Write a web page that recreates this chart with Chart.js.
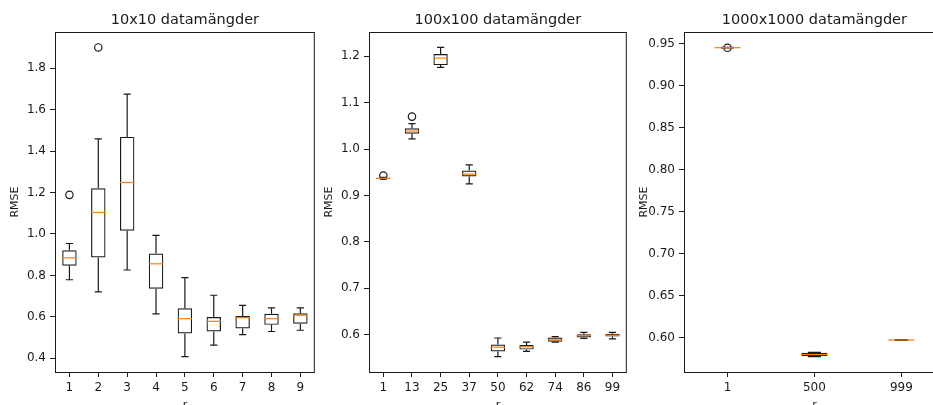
<!DOCTYPE html>
<html>
<head>
<meta charset="utf-8">
<script src="https://cdn.jsdelivr.net/npm/chart.js@4.4.0/dist/chart.umd.min.js"></script>
<style>
  html, body { margin: 0; padding: 0; background: #fff; overflow: hidden; width: 933px; height: 405px; }
  canvas { position: absolute; top: 0; }
</style>
</head>
<body>
<canvas id="c10" width="320" height="420" style="left:0px"></canvas>
<canvas id="c100" width="318" height="420" style="left:314px"></canvas>
<canvas id="c1000" width="321" height="420" style="left:629px"></canvas>
<script>
// 10x10
var labels10 = ['1', '2', '3', '4', '5', '6', '7', '8', '9'];
var low10  = [0.779, 0.720, 0.826, 0.614, 0.408, 0.463, 0.514, 0.529, 0.535];
var q1_10  = [0.847, 0.887, 1.016, 0.736, 0.519, 0.529, 0.544, 0.561, 0.567];
var med10  = [0.885, 1.104, 1.249, 0.856, 0.591, 0.578, 0.596, 0.591, 0.607];
var q3_10  = [0.921, 1.221, 1.469, 0.906, 0.641, 0.599, 0.604, 0.615, 0.617];
var high10 = [0.954, 1.459, 1.676, 0.993, 0.789, 0.704, 0.655, 0.643, 0.643];
var fliers10 = [1.189, 1.901, null, null, null, null, null, null, null];
var ticks10 = [0.4, 0.6, 0.8, 1.0, 1.2, 1.4, 1.6, 1.8];

// 100x100
var labels100 = ['1', '13', '25', '37', '50', '62', '74', '86', '99'];
var low100  = [0.935, 1.022, 1.176, 0.925, 0.553, 0.564, 0.584, 0.592, 0.591];
var q1_100  = [0.936, 1.033, 1.181, 0.941, 0.564, 0.568, 0.585, 0.594, 0.596];
var med100  = [0.937, 1.039, 1.196, 0.946, 0.573, 0.574, 0.589, 0.598, 0.599];
var q3_100  = [0.938, 1.045, 1.205, 0.954, 0.579, 0.578, 0.594, 0.601, 0.602];
var high100 = [0.939, 1.055, 1.219, 0.966, 0.593, 0.584, 0.596, 0.605, 0.605];
var fliers100 = [0.943, 1.070, null, null, null, null, null, null, null];
var ticks100 = [0.6, 0.7, 0.8, 0.9, 1.0, 1.1, 1.2];

// 1000x1000
var labels1000 = ['1', '500', '999'];
var low1000  = [0.9446, 0.5776, 0.5968];
var q1_1000  = [0.9447, 0.5780, 0.5971];
var med1000  = [0.9449, 0.5800, 0.5973];
var q3_1000  = [0.9451, 0.5822, 0.5975];
var high1000 = [0.9452, 0.5826, 0.5977];
var fliers1000 = [0.9448, null, null];
var ticks1000 = [0.60, 0.65, 0.70, 0.75, 0.80, 0.85, 0.90, 0.95];

var ink = '#1a1a1a';
var orange = '#ff7f0e';
var font = 'DejaVu Sans';

// whiskers, caps and medians on top of the floating bars
var boxParts = {
  id: 'boxParts',
  afterDatasetsDraw: function(chart) {
    var p = chart.options.plugins.boxParts;
    var x = chart.scales.x, y = chart.scales.y;
    var ctx = chart.ctx;
    var unit = x.getPixelForValue(1) - x.getPixelForValue(0);
    var half = unit * p.width / 2;
    var cap = half / 2;
    ctx.save();
    ctx.lineWidth = 1.2;
    for (var i = 0; i < p.med.length; i++) {
      var cx = x.getPixelForValue(i);
      ctx.strokeStyle = ink;
      ctx.beginPath();
      ctx.moveTo(cx, y.getPixelForValue(p.q3[i]));
      ctx.lineTo(cx, y.getPixelForValue(p.high[i]));
      ctx.moveTo(cx, y.getPixelForValue(p.q1[i]));
      ctx.lineTo(cx, y.getPixelForValue(p.low[i]));
      ctx.moveTo(cx - cap, y.getPixelForValue(p.high[i]));
      ctx.lineTo(cx + cap, y.getPixelForValue(p.high[i]));
      ctx.moveTo(cx - cap, y.getPixelForValue(p.low[i]));
      ctx.lineTo(cx + cap, y.getPixelForValue(p.low[i]));
      ctx.stroke();
      ctx.strokeStyle = orange;
      ctx.beginPath();
      ctx.moveTo(cx - half, y.getPixelForValue(p.med[i]));
      ctx.lineTo(cx + half, y.getPixelForValue(p.med[i]));
      ctx.stroke();
    }
    // axes frame
    var a = chart.chartArea;
    ctx.strokeStyle = ink;
    ctx.lineWidth = 1;
    ctx.strokeRect(a.left + 0.5, a.top + 0.5, a.right - a.left - 1, a.bottom - a.top);
    ctx.restore();
  }
};

function limits(lows, highs, fliers) {
  var all = lows.concat(highs).concat(fliers.filter(function(v) { return v !== null; }));
  var mn = Math.min.apply(null, all);
  var mx = Math.max.apply(null, all);
  var pad = (mx - mn) * 0.05;
  return [mn - pad, mx + pad];
}

function boxChart(id, title, labels, low, q1, med, q3, high, fliers, ticks, width, decimals) {
  var lim = limits(low, high, fliers);
  var boxes = [];
  for (var i = 0; i < labels.length; i++) {
    boxes.push([q1[i], q3[i]]);
  }
  return new Chart(document.getElementById(id), {
    type: 'bar',
    data: {
      labels: labels,
      datasets: [{
        data: boxes,
        backgroundColor: 'rgba(0,0,0,0)',
        borderColor: ink,
        borderWidth: 1.2,
        borderSkipped: false,
        barPercentage: width,
        categoryPercentage: 1
      }, {
        type: 'line',
        data: fliers,
        showLine: false,
        pointRadius: 3.7,
        pointBorderWidth: 1.2,
        pointBorderColor: ink,
        pointBackgroundColor: 'rgba(0,0,0,0)'
      }]
    },
    options: {
      responsive: false,
      animation: false,
      layout: { padding: { left: 0, right: 5, top: 0, bottom: 0 } },
      plugins: {
        legend: { display: false },
        tooltip: { enabled: false },
        boxParts: { low: low, q1: q1, med: med, q3: q3, high: high, width: width }
      },
      scales: {
        x: {
          grid: { offset: false, drawOnChartArea: false, tickLength: 5, color: ink, lineWidth: 1 },
          border: { display: false },
          ticks: { color: ink, padding: 4, font: { family: font, size: 12 }, maxRotation: 0 },
          title: { display: true, text: 'r', color: ink, font: { family: font, size: 11 }, padding: { top: 0, bottom: 8 } },
          afterFit: function(s) { s.height = 48; }
        },
        top: {
          type: 'category',
          position: 'top',
          labels: labels,
          grid: { display: false },
          border: { display: false },
          ticks: { display: false },
          title: { display: true, text: title, color: ink, font: { family: font, size: 14.5 }, padding: { top: 12, bottom: 0 } },
          afterFit: function(s) { s.height = 32; }
        },
        y: {
          min: lim[0],
          max: lim[1],
          grid: { drawOnChartArea: false, tickLength: 5, color: ink, lineWidth: 1 },
          border: { display: false },
          ticks: {
            color: ink,
            padding: 4,
            font: { family: font, size: 12 },
            callback: function(v) { return v.toFixed(decimals); }
          },
          afterBuildTicks: function(s) {
            s.ticks = ticks.map(function(v) { return { value: v }; });
          },
          title: { display: true, text: 'RMSE', color: ink, font: { family: font, size: 11 }, padding: { top: 9, bottom: 0 } },
          afterFit: function(s) { s.width = 55; }
        }
      }
    },
    plugins: [boxParts]
  });
}

boxChart('c10', '10x10 datamängder', labels10, low10, q1_10, med10, q3_10, high10, fliers10, ticks10, 0.5, 1);
boxChart('c100', '100x100 datamängder', labels100, low100, q1_100, med100, q3_100, high100, fliers100, ticks100, 0.5, 1);
boxChart('c1000', '1000x1000 datamängder', labels1000, low1000, q1_1000, med1000, q3_1000, high1000, fliers1000, ticks1000, 0.3, 2);
</script>
</body>
</html>
